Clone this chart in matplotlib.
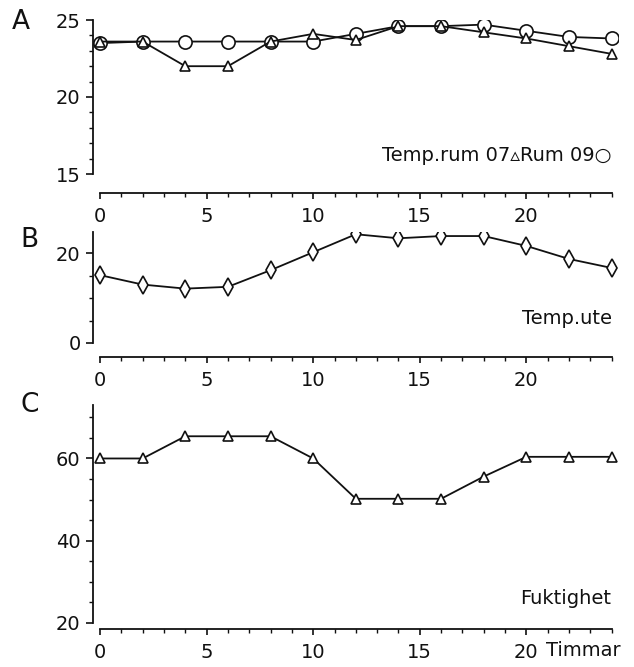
import matplotlib
matplotlib.use("Agg")
import matplotlib.pyplot as plt
from matplotlib.ticker import MultipleLocator

# Timmar (x-axel)
timmar = [0, 2, 4, 6, 8, 10, 12, 14, 16, 18, 20, 22, 24]

# A: rumstemperatur
rum07 = [23.6, 23.6, 22.0, 22.0, 23.6, 24.1, 23.7, 24.6, 24.6, 24.2, 23.8, 23.3, 22.8]
rum09 = [23.5, 23.6, 23.6, 23.6, 23.6, 23.6, 24.1, 24.6, 24.6, 24.7, 24.3, 23.9, 23.8]

# B: utetemperatur
temp_ute = [15.1, 13.0, 12.1, 12.5, 16.2, 20.2, 24.2, 23.3, 23.8, 23.8, 21.6, 18.7, 16.7]

# C: fuktighet
fuktighet = [60, 60, 65.4, 65.4, 65.4, 60, 50.2, 50.2, 50.2, 55.6, 60.4, 60.4, 60.4]

W, H = 634, 667
fig = plt.figure(figsize=(W / 100, H / 100), dpi=100)
plt.rcParams["font.family"] = ["DejaVu Sans"]

FS = 14
ink = "#111111"


def make_ax(top_px, bottom_px, ylim, major, minor, offset_px):
    left, right = 93, 618
    ax = fig.add_axes([left / W, 1 - bottom_px / H, (right - left) / W, (bottom_px - top_px) / H])
    ax.set_xlim(-0.33, 24.3)
    ax.set_ylim(*ylim)
    ax.spines["top"].set_visible(False)
    ax.spines["right"].set_visible(False)
    ax.spines["bottom"].set_position(("outward", offset_px * 0.72))
    ax.spines["bottom"].set_bounds(0, 24)
    for s in ("left", "bottom"):
        ax.spines[s].set_linewidth(1.3)
        ax.spines[s].set_color(ink)
    ax.xaxis.set_major_locator(MultipleLocator(5))
    ax.xaxis.set_minor_locator(MultipleLocator(1))
    ax.yaxis.set_major_locator(MultipleLocator(major))
    ax.yaxis.set_minor_locator(MultipleLocator(minor))
    ax.tick_params(which="major", direction="out", length=5, width=1.2, labelsize=FS, pad=4, colors=ink)
    ax.tick_params(which="minor", direction="out", length=3, width=1.0, colors=ink)
    ax.tick_params(axis="x", which="major", length=4, pad=6)
    return ax


mk = dict(color=ink, lw=1.3, markerfacecolor="white", markeredgecolor=ink, markeredgewidth=1.2)

# Panel A
axA = make_ax(20, 174, (15, 25), 5, 1, 19)
axA.plot(timmar, rum09, marker="o", markersize=9.5, zorder=3, **mk)
axA.plot(timmar, rum07, marker="^", markersize=6.5, zorder=4, **mk)
axA.text(24, 16.2, "Temp.rum 07\u25b5Rum 09\u25cb", ha="right", va="center", fontsize=FS, color=ink)

# Panel B
axB = make_ax(232, 343, (0, 24.7), 20, 5, 14)
axB.plot(timmar, temp_ute, marker="d", markersize=9, zorder=3, **mk)
axB.text(24, 5.5, "Temp.ute", ha="right", va="center", fontsize=FS, color=ink)

# Panel C
axC = make_ax(405, 623, (20, 73), 20, 5, 6)
axC.plot(timmar, fuktighet, marker="^", markersize=7, zorder=3, **mk)
axC.text(24, 26, "Fuktighet", ha="right", va="center", fontsize=FS, color=ink)
axC.annotate("Timmar", xy=(20.9, 0), xycoords=("data", "axes fraction"),
             xytext=(0, -(6 * 0.72 + 4 * 0.72 + 5.5)), textcoords="offset points",
             ha="left", va="top", fontsize=FS, color=ink)

# Panelbokstäver
fig.text(12 / W, 1 - 22 / H, "A", fontsize=19, va="center", ha="left", color=ink)
fig.text(20 / W, 1 - 240 / H, "B", fontsize=19, va="center", ha="left", color=ink)
fig.text(20 / W, 1 - 405 / H, "C", fontsize=19, va="center", ha="left", color=ink)

fig.savefig("out.png", dpi=100)
